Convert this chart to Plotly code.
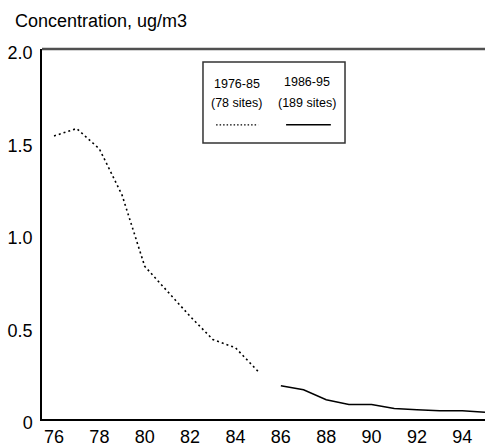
import plotly.graph_objects as go

# Annual mean concentrations, two monitoring networks
years_early = [76, 77, 78, 79, 80, 81, 82, 83, 84, 85]
conc_early = [1.53, 1.57, 1.46, 1.21, 0.825, 0.69, 0.555, 0.43, 0.385, 0.257]

years_late = [86, 87, 88, 89, 90, 91, 92, 93, 94, 95]
conc_late = [0.18, 0.158, 0.104, 0.079, 0.079, 0.057, 0.05, 0.045, 0.045, 0.036]

x_ticks = [76, 78, 80, 82, 84, 86, 88, 90, 92, 94]
y_ticks = [0, 0.5, 1.0, 1.5, 2.0]
y_tick_text = ["0", "0.5", "1.0", "1.5", "2.0"]

legend_periods = ["1976-85", "1986-95"]
legend_sites = ["(78 sites)", "(189 sites)"]

FONT = "Liberation Sans, Arial, sans-serif"

fig = go.Figure()
fig.add_trace(go.Scatter(
    x=years_early, y=conc_early, mode="lines",
    line=dict(color="black", width=1.6, dash="2px,3px"),
    showlegend=False, hoverinfo="skip",
))
fig.add_trace(go.Scatter(
    x=years_late, y=conc_late, mode="lines",
    line=dict(color="black", width=1.5),
    showlegend=False, hoverinfo="skip",
))

# Legend box drawn by hand: two columns, labels above a line sample
shapes = [
    dict(type="rect", xref="paper", yref="paper",
         x0=0.3634, x1=0.684, y0=0.746, y1=0.965,
         line=dict(color="#333333", width=1.5), fillcolor="white", layer="below"),
    dict(type="line", xref="paper", yref="paper",
         x0=0.393, x1=0.488, y0=0.795, y1=0.795,
         line=dict(color="black", width=1.2, dash="1.5px,2px")),
    dict(type="line", xref="paper", yref="paper",
         x0=0.551, x1=0.652, y0=0.795, y1=0.795,
         line=dict(color="black", width=1.5)),
    # top frame line
    dict(type="line", xref="paper", yref="paper",
         x0=0, x1=1, y0=1, y1=1,
         line=dict(color="#505050", width=2.5)),
]

annotations = [
    dict(text="Concentration, ug/m3", xref="paper", yref="paper",
         x=-0.0655, y=1.075, xanchor="left", yanchor="middle",
         showarrow=False, font=dict(family=FONT, size=18, color="black")),
]
label_x = [0.44, 0.598]
label_y = [0.905, 0.911]
for i in range(2):
    annotations.append(dict(text=legend_periods[i], xref="paper", yref="paper",
                            x=label_x[i], y=label_y[i], xanchor="center", yanchor="middle",
                            showarrow=False, font=dict(family=FONT, size=12.5, color="black")))
    annotations.append(dict(text=legend_sites[i], xref="paper", yref="paper",
                            x=label_x[i], y=0.854, xanchor="center", yanchor="middle",
                            showarrow=False, font=dict(family=FONT, size=12.5, color="black")))

fig.update_layout(
    width=485, height=446,
    margin=dict(l=42, r=0, t=49, b=27, autoexpand=False),
    paper_bgcolor="white", plot_bgcolor="white",
    font=dict(family=FONT, color="black"),
    shapes=shapes, annotations=annotations,
    xaxis=dict(
        range=[75.47, 95.0], tickvals=x_ticks, ticks="", showgrid=False,
        zeroline=False, showline=True, linecolor="black", linewidth=1.5,
        tickfont=dict(family=FONT, size=18, color="black"),
        ticklabelstandoff=1, automargin=False,
    ),
    yaxis=dict(
        range=[0, 2.0], tickvals=y_ticks, ticktext=y_tick_text, ticks="",
        showgrid=False, zeroline=False, showline=True, linecolor="black",
        linewidth=1.5, tickfont=dict(family=FONT, size=18, color="black"),
        ticklabelstandoff=4, ticklabelshift=4, automargin=False,
    ),
)

fig.write_html("out.html")
